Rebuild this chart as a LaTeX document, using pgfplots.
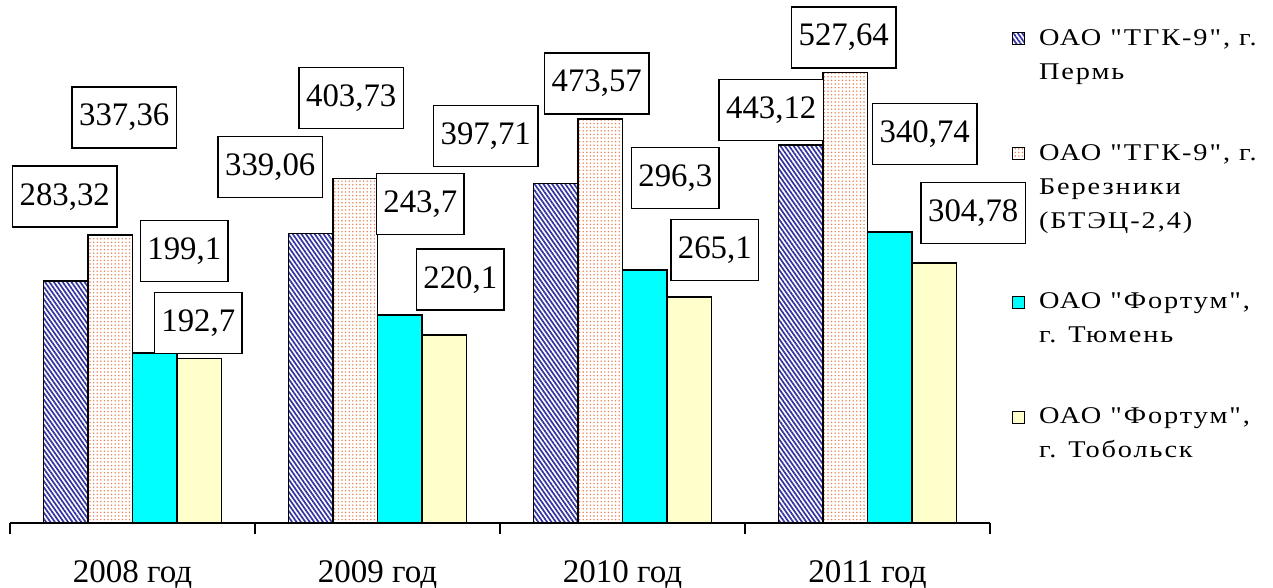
\documentclass[border=0pt]{standalone}
\usepackage{fontspec}
\setmainfont{Liberation Serif}
\newfontfamily\legfont{Liberation Serif}[LetterSpace=8,FakeStretch=1.18]
\usepackage{pgfplots}
\pgfplotsset{compat=1.18}
\usepackage{pgfplotstable}
\usetikzlibrary{patterns.meta}

\definecolor{hatchblue}{RGB}{50,50,160}
\definecolor{dotorange}{RGB}{230,125,80}
\definecolor{tcyan}{RGB}{0,255,255}
\definecolor{tyellow}{RGB}{255,255,204}

% x = year index, y = value, dx/dy = label box offset from bar top (pt)
\pgfplotstableread{
x y dx dy
0 283.32 -0.5 42.25
1 339.06 -20.25 33.25
2 397.71 -35 23.75
3 443.12 -14.75 17.5
}\perm
\pgfplotstableread{
x y dx dy
0 337.36 7 58.75
1 403.73 -2 40.25
2 473.57 -1.75 17.75
3 527.64 -0.75 17.5
}\berez
\pgfplotstableread{
x y dx dy
0 199.1 14.75 51
1 243.7 10.25 55.5
2 296.3 15.25 46
3 340.74 17.5 49
}\tyumen
\pgfplotstableread{
x y dx dy
0 192.7 -0.5 17.75
1 220.1 8 27.75
2 265.1 12.75 23.5
3 304.78 19.5 25
}\tobolsk

% legend square, raised by #1 so it sits on the first text line
\pgfplotsset{
  sq legend/.style={legend image code/.code={%
    \draw[##1,line width=0.6pt] (0pt,#1-3pt) rectangle (6pt,#1+3pt);
    \path (0pt,-#1-3pt) (11pt,#1+3pt);}},
}

\begin{document}
\begin{tikzpicture}
\begin{axis}[
  scale only axis,
  width=490pt, height=256.05pt,
  ybar=0pt, bar width=22.25pt,
  xmin=-0.5, xmax=3.5, ymin=0, ymax=600,
  axis x line*=bottom, axis y line=none,
  axis line style={black, line width=0.7pt},
  xtick={0,1,2,3},
  xticklabels={2008 год, 2009 год, 2010 год, 2011 год},
  major tick length=0pt,
  xticklabel style={anchor=base, yshift=-30pt, font=\fontsize{16.5}{19}\selectfont},
  extra x ticks={-0.5,0.5,1.5,2.5,3.5},
  extra x tick labels={},
  extra x tick style={major tick length=5.5pt, tick align=outside,
    tick style={draw=black, line width=0.7pt}},
  clip=false,
  /pgf/number format/.cd, use comma, precision=2, assume math mode=true,
  /pgfplots/.cd,
  nodes near coords,
  visualization depends on={\thisrow{dx}\as\dx},
  visualization depends on={\thisrow{dy}\as\dy},
  nodes near coords style={anchor=center, xshift=\dx, yshift=\dy,
    draw=black, fill=white, text=black, line width=0.7pt,
    minimum height=30.5pt, inner xsep=3.5pt,
    font=\fontsize{16.4}{19}\selectfont},
  legend style={draw=none, fill=none, at={(rel axis cs:1,1)}, anchor=north west,
    xshift=10.5pt, yshift=-7pt, inner sep=0pt, row sep=27pt,
    font=\legfont\fontsize{12}{17}\selectfont,
    cells={align=left}},
  legend cell align=left,
]
\coordinate (bl) at (rel axis cs:0,0);
\addplot[sq legend=8.5pt, draw=black, line width=0.8pt,
  pattern={Lines[angle=-55,distance=1.8pt,line width=0.85pt]}, pattern color=hatchblue]
  table[x=x,y=y] {\perm};
\addlegendentry{ОАО "ТГК-9", г.\\Пермь}
\addplot[sq legend=17pt, draw=black, line width=0.8pt,
  pattern={Dots[distance=1.8pt,radius=0.4pt]}, pattern color=dotorange]
  table[x=x,y=y] {\berez};
\addlegendentry{ОАО "ТГК-9", г.\\Березники\\(БТЭЦ-2,4)}
\addplot[sq legend=8.5pt, draw=black, line width=0.8pt, fill=tcyan]
  table[x=x,y=y] {\tyumen};
\addlegendentry{ОАО "Фортум",\\г. Тюмень}
\addplot[sq legend=8.5pt, draw=black, line width=0.8pt, fill=tyellow]
  table[x=x,y=y] {\tobolsk};
\addlegendentry{ОАО "Фортум",\\г. Тобольск}
\end{axis}
\pgfresetboundingbox
\path (bl) ++(-5pt,-32.5pt) rectangle ++(636.5pt,294pt);
\end{tikzpicture}
\end{document}
